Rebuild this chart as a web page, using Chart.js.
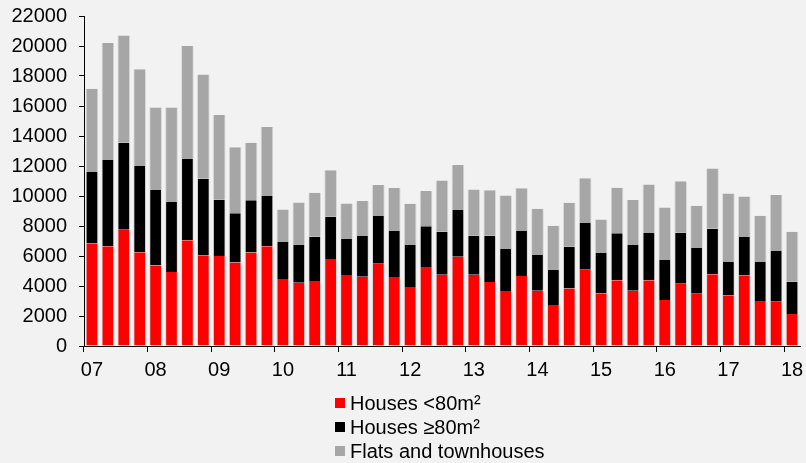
<!DOCTYPE html>
<html>
<head>
<meta charset="utf-8">
<script src="https://cdn.jsdelivr.net/npm/chart.js@4.4.1/dist/chart.umd.min.js"></script>
<style>
  html, body { margin: 0; padding: 0; background: #f2f2f2; }
  #wrap { position: relative; width: 806px; height: 463px; }
  canvas { display: block; }
  #legend { position: absolute; left: 335px; top: 391px; font-family: "Liberation Sans", Arial, sans-serif; font-size: 20px; color: #000; }
  #legend div { height: 24px; line-height: 24px; display: flex; align-items: center; }
  #legend span.box { display: inline-block; width: 10px; height: 10px; margin-right: 5px; }
</style>
</head>
<body>
<div id="wrap">
  <canvas id="chart" width="806" height="463"></canvas>
  <div id="legend"></div>
</div>
<script>
// Quarterly sales 2007 Q1 - 2018 Q1
const years = ['2007', '2008', '2009', '2010', '2011', '2012', '2013', '2014', '2015', '2016', '2017', '2018'];
const quarters = [];
years.forEach(y => {
    ['Q1', 'Q2', 'Q3', 'Q4'].forEach(q => {
        if (y === '2018' && q !== 'Q1') return;
        quarters.push(y + ' ' + q);
    });
});

const housesSmall = [6850, 6650, 7750, 6250, 5370, 4930, 7050, 6050, 6000, 5570, 6240, 6650,
    4460, 4220, 4330, 5800, 4730, 4620, 5490, 4600, 3930, 5260, 4750, 5950,
    4750, 4260, 3660, 4660, 3680, 2740, 3840, 5080, 3510, 4380, 3680, 4380,
    3060, 4150, 3480, 4780, 3380, 4710, 3000, 2950, 2130];
const housesLarge = [4750, 5750, 5800, 5750, 5030, 4670, 5450, 5100, 3750, 3280, 3480, 3350,
    2470, 2550, 2950, 2820, 2440, 2710, 3170, 3060, 2800, 2730, 2870, 3150,
    2600, 3090, 2800, 3000, 2380, 2360, 2780, 3160, 2690, 3130, 3050, 3190,
    2670, 3400, 3050, 3030, 2220, 2550, 2600, 3380, 2150];
const flats = [5550, 7800, 7150, 6450, 5500, 6300, 7500, 6950, 5650, 4400, 3830, 4600,
    2170, 2800, 2930, 3090, 2330, 2330, 2070, 2870, 2750, 2340, 3420, 2960,
    3090, 3040, 3580, 2850, 3090, 2920, 2930, 2950, 2240, 3040, 3000, 3200,
    3510, 3440, 2820, 4030, 4570, 2710, 3080, 3730, 3330];

const seriesNames = ['Houses <80m²', 'Houses ≥80m²', 'Flats and townhouses'];
const seriesColors = ['#ff0000', '#000000', '#a6a6a6'];

const font = { family: '"Liberation Sans", Arial, sans-serif', size: 20 };

new Chart(document.getElementById('chart'), {
    type: 'bar',
    data: {
        labels: quarters,
        datasets: [housesSmall, housesLarge, flats].map((d, i) => ({
            label: seriesNames[i],
            data: d,
            backgroundColor: seriesColors[i],
            borderColor: 'rgba(215,215,215,0.9)',
            borderWidth: { left: 1, right: 1, top: 0, bottom: 0 },
            categoryPercentage: 1,
            barPercentage: 0.8
        }))
    },
    options: {
        responsive: false,
        animation: false,
        layout: { padding: { top: 16, right: 6, bottom: 81, left: 0 } },
        plugins: {
            legend: { display: false },
            tooltip: { enabled: false }
        },
        scales: {
            x: {
                stacked: true,
                afterFit: s => { s.height = 36; s.paddingLeft = 0; s.paddingRight = 0; },
                grid: {
                    offset: true,
                    drawOnChartArea: false,
                    tickLength: 6,
                    tickColor: ctx => ctx.index % 4 === 0 ? '#000' : 'rgba(0,0,0,0)'
                },
                border: { color: '#000', width: 1 },
                ticks: {
                    autoSkip: false,
                    maxRotation: 0,
                    padding: 6,
                    color: '#000',
                    font: font,
                    callback: function(v, i) {
                        const q = quarters[i];
                        return q.endsWith('Q1') ? q.slice(2, 4) : '';
                    }
                }
            },
            y: {
                stacked: true,
                min: 0,
                max: 22000,
                afterFit: s => { s.width = 84; s.paddingTop = 0; s.paddingBottom = 0; },
                grid: { drawOnChartArea: false, tickLength: 5, tickColor: '#000' },
                border: { color: '#000', width: 1 },
                ticks: { stepSize: 2000, padding: 12, color: '#000', font: font, callback: v => String(v) }
            }
        }
    }
});

const legend = document.getElementById('legend');
seriesNames.forEach((n, i) => {
    const row = document.createElement('div');
    row.innerHTML = '<span class="box" style="background:' + seriesColors[i] + '"></span>' + n;
    legend.appendChild(row);
});
</script>
</body>
</html>
